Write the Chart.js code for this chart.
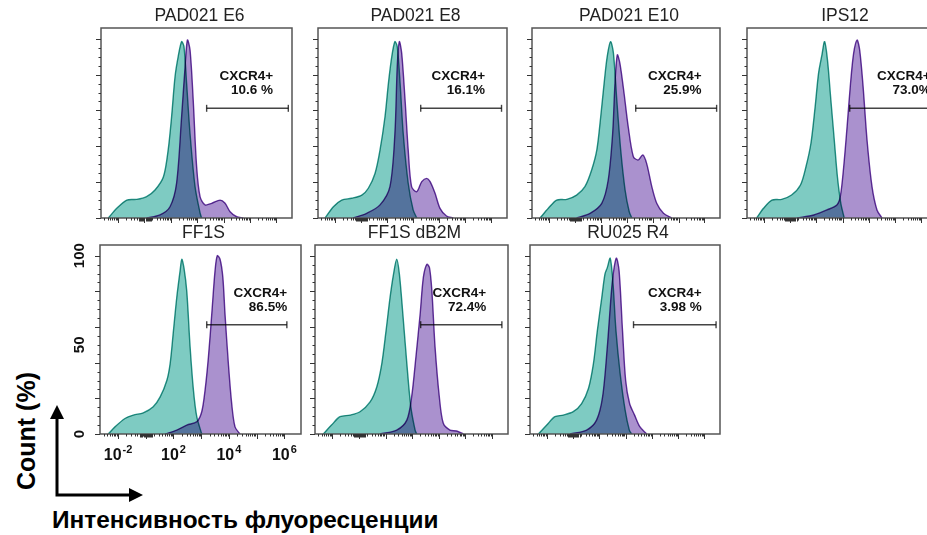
<!DOCTYPE html>
<html>
<head>
<meta charset="utf-8">
<script src="https://cdn.jsdelivr.net/npm/chart.js@4.4.0/dist/chart.umd.min.js"></script>
<style>
  html, body { margin: 0; padding: 0; background: #fff; overflow: hidden; width: 927px; height: 535px; }
  canvas { position: absolute; }
  #outer { position: absolute; left: 0; top: 0; }
</style>
</head>
<body>
<svg id="outer" width="927" height="535">
  <polyline points="57,412 57,495 132,495" fill="none" stroke="#000" stroke-width="3" stroke-linejoin="miter"/>
  <polygon points="57,405 50,419 64,419" fill="#000"/>
  <polygon points="143,495 129,488 129,502" fill="#000"/>
  <text transform="translate(26,431) rotate(-90)" text-anchor="middle" dominant-baseline="central"
        font-family="Liberation Sans, Arial, sans-serif" font-weight="bold" font-size="25">Count (%)</text>
  <text x="52" y="528" font-family="Liberation Sans, Arial, sans-serif" font-weight="bold" font-size="24.4">Интенсивность флуоресценции</text>
</svg>
<script>
// x values are positions on the biexponential axis (10^-2 at 0, 10^2 at 2, 10^4 at 4, 10^6 at 6)
const titles = ['PAD021 E6', 'PAD021 E8', 'PAD021 E10', 'IPS12', 'FF1S', 'FF1S dB2M', 'RU025 R4'];
const percents = ['10.6 %', '16.1%', '25.9%', '73.0%', '86.5%', '72.4%', '3.98 %'];
const gateLabel = 'CXCR4+';

const e6Control = [[-0.37,0],[-0.05,5.4],[0.33,10],[0.71,10.4],[1.08,11.9],[1.4,15.6],[1.72,23],[1.9,38],[2.03,56.5],[2.16,78.8],[2.28,90],[2.41,98.4],[2.5,95.6],[2.6,75],[2.73,47],[2.92,17.5],[3.11,2.8],[3.17,0]];
const e6Stained = [[1.08,0],[1.59,1.7],[1.97,6.3],[2.22,19.5],[2.41,56.5],[2.54,84],[2.63,99.3],[2.73,93.7],[2.85,65.8],[2.98,28.6],[3.11,11.9],[3.3,7.3],[3.55,8.2],[3.87,10],[4.06,8.2],[4.25,3.5],[4.5,0.7],[4.75,0]];

const e8Control = [[-0.38,0],[-0.06,6.3],[0.26,10],[0.64,11],[1.03,12.8],[1.28,16.6],[1.54,25],[1.73,38],[1.92,56.5],[2.05,75],[2.18,90],[2.3,98.4],[2.39,95.6],[2.5,75],[2.62,47],[2.81,19.4],[3.0,4.5],[3.14,0]];
const e8Stained = [[0.7,0],[1.22,2.6],[1.73,7.3],[2.11,17.5],[2.3,47],[2.39,84.4],[2.47,98.4],[2.56,92],[2.69,65.8],[2.81,38],[2.94,17.5],[3.14,14.7],[3.33,20.3],[3.52,22.1],[3.65,20.3],[3.84,13.8],[4.03,5.4],[4.28,1.1],[4.54,0]];

const e10Control = [[-0.34,0],[-0.02,5.4],[0.3,10],[0.69,10.4],[1.07,12.8],[1.39,17.5],[1.65,26.8],[1.85,38],[2.0,56.5],[2.13,75],[2.25,90],[2.38,98.4],[2.49,92],[2.62,65.8],[2.77,38],[2.94,15.6],[3.1,3.5],[3.2,0]];
const e10Stained = [[1.07,0],[1.59,2.6],[2.04,8.2],[2.29,21.2],[2.46,47],[2.55,75],[2.64,91],[2.74,86.3],[2.9,69.6],[3.06,51],[3.26,34.2],[3.45,32.4],[3.62,35.2],[3.77,30.5],[3.97,17.5],[4.16,8.2],[4.42,2.6],[4.74,0]];

const ips12Control = [[-0.28,0],[-0.02,5.4],[0.3,10],[0.67,10.4],[1.05,12.8],[1.39,18.4],[1.6,28.6],[1.79,41.7],[1.95,62],[2.08,80.7],[2.21,91],[2.31,98.4],[2.42,88.2],[2.55,65.8],[2.68,43.5],[2.8,23],[2.93,8.2],[3.06,0]];
const ips12Stained = [[1.26,0],[1.9,1.7],[2.4,4.5],[2.78,7.3],[2.91,11.9],[3.04,28.6],[3.17,51],[3.3,75],[3.42,92],[3.55,99.3],[3.65,93.7],[3.78,73.3],[3.93,43.5],[4.12,17.5],[4.31,4.5],[4.5,0]];

const ff1sControl = [[-0.35,0],[-0.11,4],[0.25,8.7],[0.55,10.6],[0.91,11.9],[1.27,15.3],[1.52,20.8],[1.76,30],[1.88,39.5],[2.0,58],[2.12,76.7],[2.24,91.6],[2.3,98],[2.38,93],[2.48,80],[2.6,48.8],[2.72,24.6],[2.84,9.7],[3.02,0]];
const ff1sStained = [[1.7,0],[2.12,2.2],[2.48,5],[2.84,6.9],[3.02,12.5],[3.14,24.6],[3.26,43],[3.38,67],[3.5,91.6],[3.58,100],[3.68,98],[3.78,88],[3.86,67],[3.98,39.5],[4.1,17],[4.22,4],[4.4,0]];

const db2mControl = [[-0.34,0],[-0.03,5],[0.29,9.7],[0.67,10.6],[1.04,12.5],[1.42,18],[1.67,26.4],[1.86,39.5],[2.02,58],[2.17,76.6],[2.3,89.7],[2.42,98],[2.52,89.7],[2.65,67.3],[2.8,39.5],[2.95,15.2],[3.11,2.2],[3.17,0]];
const db2mStained = [[1.79,0],[2.42,2.2],[2.8,7.8],[2.98,20.8],[3.14,43],[3.3,67.3],[3.42,87.8],[3.55,95.2],[3.65,93.3],[3.74,80.3],[3.86,48.7],[4.02,20.8],[4.17,6],[4.42,2.2],[4.67,1.7],[4.92,0]];

const ru025Control = [[-0.33,0],[-0.01,5],[0.3,9.7],[0.62,10.6],[1.0,12.5],[1.32,17.1],[1.58,25.5],[1.77,39.5],[1.92,58],[2.09,76.6],[2.21,89.7],[2.3,93.3],[2.41,98.6],[2.51,86],[2.63,58],[2.79,33.9],[2.98,13.4],[3.14,2.2],[3.23,0]];
const ru025Stained = [[0.88,0],[1.51,2.2],[1.89,7.8],[2.12,20.8],[2.3,48.7],[2.46,80.3],[2.56,93.3],[2.65,98.6],[2.75,91.5],[2.88,58],[3.0,30],[3.15,17.1],[3.34,10.6],[3.54,4.1],[3.8,0]];

// gates: [from, to, level]
const gates = [[3.36,6.46,61.2],[3.29,6.39,61.2],[3.35,6.47,61.2],[3.27,6.45,61.2],[3.2,6.09,61.3],[3.32,6.37,61.3],[3.3,6.45,61.3]];
const gateTextX = [5.88, 5.76, 5.89, 6.36, 6.1, 5.78, 5.9];

const xTickPos = [0, 2, 4, 6];
const xTickLabels = [['10', '-2'], ['10', '2'], ['10', '4'], ['10', '6']];
const yTickLabels = [0, 50, 100];

const controls = [e6Control, e8Control, e10Control, ips12Control, ff1sControl, db2mControl, ru025Control];
const stained = [e6Stained, e8Stained, e10Stained, ips12Stained, ff1sStained, db2mStained, ru025Stained];

// panel boxes on the page
const boxes = [
  {l: 101, t: 28, w: 191, h: 190},
  {l: 318, t: 28, w: 189, h: 190},
  {l: 532, t: 28, w: 188, h: 190},
  {l: 747, t: 28, w: 190, h: 190},
  {l: 100, t: 245, w: 201, h: 189},
  {l: 315, t: 245, w: 193, h: 189},
  {l: 530, t: 245, w: 190, h: 189}
];
const pad = {left: 40, top: 30, right: 12, bottom: 34};

const FONT = '"Liberation Sans", Arial, sans-serif';

function makeDecor(i) {
  return {
    id: 'decor' + i,
    beforeDatasetsDraw(chart) {
      chart.ctx.save();
      chart.ctx.globalCompositeOperation = 'multiply';
    },
    afterDatasetsDraw(chart) {
      chart.ctx.restore();
    },
    afterDraw(chart) {
      const {ctx, chartArea: a, scales: {x, y}} = chart;
      ctx.save();
      ctx.strokeStyle = '#555';
      ctx.lineWidth = 1.5;
      ctx.strokeRect(a.left, a.top, a.right - a.left, a.bottom - a.top);

      ctx.strokeStyle = '#333';
      ctx.lineWidth = 1;
      for (let v = 0; v <= 100; v += 5) {
        const len = v % 20 === 0 ? 5 : 2.5;
        const py = Math.round(y.getPixelForValue(v)) + 0.5;
        ctx.beginPath(); ctx.moveTo(a.left, py); ctx.lineTo(a.left - len, py); ctx.stroke();
      }
      const xt = [];
      for (let d = -1; d <= 5; d++) {
        for (let k = 2; k <= 9; k++) xt.push([d + Math.log10(k), 2.5]);
      }
      for (let d = 0; d <= 6; d++) xt.push([d, 5]);
      for (let c = 0.8; c <= 1.25; c += 0.04) xt.push([c, 3.5]);
      xt.forEach(([v, len]) => {
        if (v < x.min || v > x.max) return;
        const px = Math.round(x.getPixelForValue(v)) + 0.5;
        ctx.beginPath(); ctx.moveTo(px, a.bottom); ctx.lineTo(px, a.bottom + len); ctx.stroke();
      });

      ctx.fillStyle = '#222';
      ctx.font = '17.5px ' + FONT;
      ctx.textAlign = 'center';
      ctx.textBaseline = 'middle';
      ctx.fillText(titles[i], (a.left + a.right) / 2 + 3, a.top - 12);

      ctx.fillStyle = '#111';
      ctx.font = 'bold 13.5px ' + FONT;
      ctx.textAlign = 'right';
      const lx = x.getPixelForValue(gateTextX[i]);
      ctx.fillText(gateLabel, lx, y.getPixelForValue(79));
      ctx.fillText(percents[i], lx, y.getPixelForValue(71));

      if (i === 4) {
        ctx.fillStyle = '#111';
        ctx.font = 'bold 15px ' + FONT;
        yTickLabels.forEach(v => {
          ctx.save();
          ctx.translate(a.left - 20, y.getPixelForValue(v));
          ctx.rotate(-Math.PI / 2);
          ctx.textAlign = 'center';
          ctx.textBaseline = 'middle';
          ctx.fillText(String(v), 0, 0);
          ctx.restore();
        });
        xTickPos.forEach((v, j) => {
          const [base, exp] = xTickLabels[j];
          ctx.font = 'bold 16px ' + FONT;
          const bw = ctx.measureText(base).width;
          ctx.font = 'bold 11px ' + FONT;
          const ew = ctx.measureText(exp).width;
          const cx = x.getPixelForValue(v);
          const x0 = cx - (bw + ew + 1) / 2;
          const by = a.bottom + 26;
          ctx.textAlign = 'left';
          ctx.textBaseline = 'alphabetic';
          ctx.font = 'bold 16px ' + FONT;
          ctx.fillText(base, x0, by);
          ctx.font = 'bold 11px ' + FONT;
          ctx.fillText(exp, x0 + bw + 1, by - 7);
        });
      }
      ctx.restore();
    }
  };
}

const toPoints = arr => arr.map(([x, y]) => ({x, y}));

boxes.forEach((b, i) => {
  const cv = document.createElement('canvas');
  cv.width = b.w + pad.left + pad.right;
  cv.height = b.h + pad.top + pad.bottom;
  cv.style.left = (b.l - pad.left) + 'px';
  cv.style.top = (b.t - pad.top) + 'px';
  document.body.appendChild(cv);

  const g = gates[i];
  new Chart(cv.getContext('2d'), {
    type: 'line',
    data: {
      datasets: [
        {
          data: [{x: g[0], y: g[2]}, {x: g[1], y: g[2]}],
          borderColor: '#444',
          borderWidth: 1.4,
          pointStyle: 'line',
          pointRotation: 90,
          pointRadius: 3.5,
          pointBorderColor: '#444',
          pointBorderWidth: 1.4,
          fill: false,
          tension: 0
        },
        {
          data: toPoints(stained[i]),
          borderColor: 'rgb(104,52,160)',
          backgroundColor: 'rgb(170,145,206)',
          borderWidth: 1.4,
          pointRadius: 0,
          fill: 'origin',
          tension: 0.3
        },
        {
          data: toPoints(controls[i]),
          borderColor: 'rgb(38,150,140)',
          backgroundColor: 'rgb(126,203,194)',
          borderWidth: 1.4,
          pointRadius: 0,
          fill: 'origin',
          tension: 0.3
        }
      ]
    },
    options: {
      responsive: false,
      animation: false,
      events: [],
      layout: {padding: pad},
      plugins: {legend: {display: false}, tooltip: {enabled: false}},
      scales: {
        x: {type: 'linear', min: -0.65, max: 6.6, display: false},
        y: {min: 0, max: 106, display: false}
      }
    },
    plugins: [makeDecor(i)]
  });
});
</script>
</body>
</html>
